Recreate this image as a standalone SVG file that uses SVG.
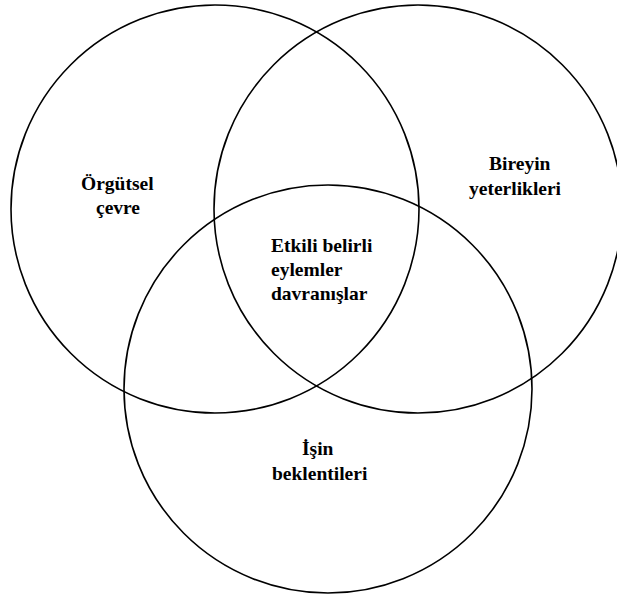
<svg xmlns="http://www.w3.org/2000/svg" width="617" height="598" viewBox="0 0 617 598">
<style>
.c{fill:none;stroke:#000;stroke-width:1.6}
text{font-family:'Liberation Serif','Times New Roman','DejaVu Serif',serif;font-weight:700;font-size:19.5px;fill:#000}
</style>
<rect width="617" height="598" fill="#fff"/>
<g id="connectors"></g>
<g id="orgutsel-cevre">
<circle class="c" cx="215" cy="209" r="204"/>
<text x="81" y="190" font-family="Liberation Serif, serif">Örgütsel</text>
<text x="96" y="214" font-family="Liberation Serif, serif">çevre</text>
</g>
<g id="bireyin-yeterlikleri">
<circle class="c" cx="418" cy="209" r="204"/>
<text x="489" y="170" font-family="Liberation Serif, serif">Bireyin</text>
<text x="469" y="195" font-family="Liberation Serif, serif">yeterlikleri</text>
</g>
<g id="isin-beklentileri">
<circle class="c" cx="328" cy="389" r="204"/>
<text x="302" y="455" font-family="Liberation Serif, serif">İşin</text>
<text x="272" y="480" font-family="Liberation Serif, serif">beklentileri</text>
</g>
<g id="etkili-davranislar">
<text x="271" y="252" font-family="Liberation Serif, serif">Etkili belirli</text>
<text x="271" y="276" font-family="Liberation Serif, serif">eylemler</text>
<text x="271" y="300" font-family="Liberation Serif, serif">davranışlar</text>
</g>
</svg>
